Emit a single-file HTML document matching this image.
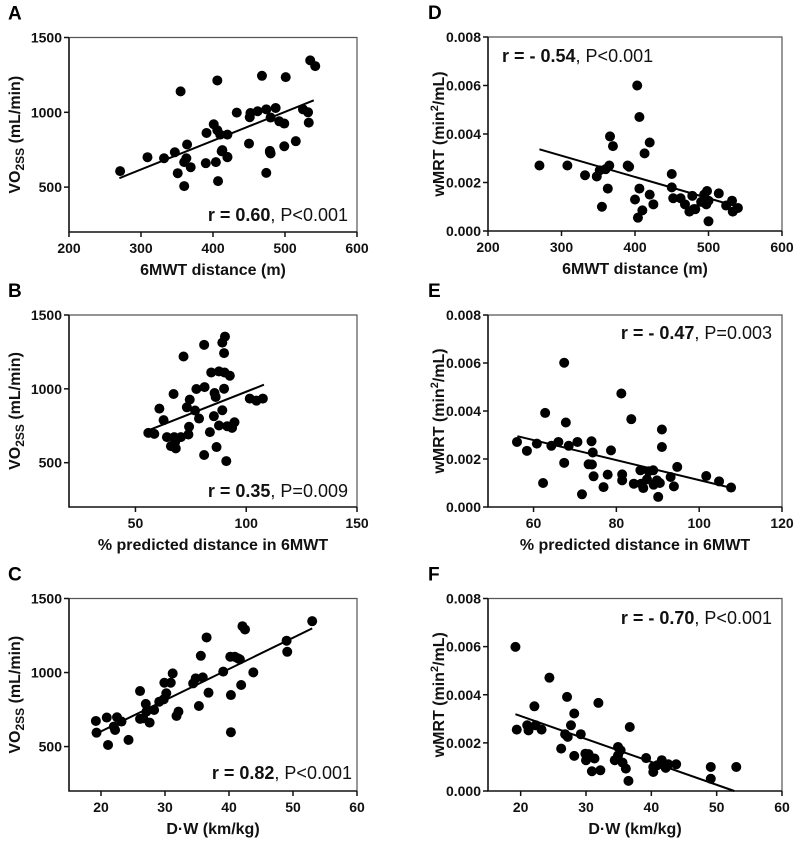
<!DOCTYPE html>
<html><head><meta charset="utf-8">
<style>
body{margin:0;background:#fff;}
svg{display:block;font-family:"Liberation Sans",Arial,sans-serif;}
.tick{font-size:14px;font-weight:bold;fill:#111;}
.title{font-size:16px;font-weight:bold;fill:#111;}
.letter{font-size:19px;font-weight:bold;fill:#000;}
.ann{font-size:18px;fill:#111;}
</style></head>
<body>
<svg id="fig" width="800" height="846" viewBox="0 0 800 846"></svg>
<script>
// ---- data ----
const distA=[271,309,332,347,363,360,369,351,360,390,404,407,420,412,474,479,355,364,406,468,501,535,542,474,487,525,532,433,451,452,462,480,492,499,533,401,391,406,410,420,413,420,450,479,480,499,515];
const vo2A=[607,700,693,733,693,667,633,593,507,660,667,540,700,740,595,735,1140,785,1213,1244,1235,1347,1309,1020,1029,1020,1000,998,967,995,1007,965,940,925,931,920,862,880,851,851,747,702,791,742,725,773,807];
const pctB=[55.8,58.5,60.8,62.7,64.2,66,67.2,67.5,68.2,67.9,70.5,71.7,73.2,73.9,74.2,74.5,76.9,77.5,78.7,81,81,81.2,83.6,84.2,85.4,85.7,86.2,86.6,87.7,87.7,89.2,89.2,90,90,90.2,90.4,91,91.4,92.6,93.6,94.7,101.6,104.6,107.5];
const vo2B=[702,695,866,788,673,612,965,673,597,639,673,1219,875,691,743,927,853,999,799,1298,552,1012,707,1111,815,972,945,606,1118,752,855,1313,1001,1242,1111,1354,511,747,1089,736,774,934,920,934];
const dwC=[19.2,19.3,20.9,21.1,22,22.2,22.5,23.2,24.3,26.1,26.1,26.6,27,27.1,27.6,28.3,29.1,29.8,29.9,30.2,30.9,31.2,31.8,32.1,34.4,34.8,35.3,35.6,35.9,36.5,36.8,39.1,40.2,40.3,40.3,40.9,41.4,41.7,41.9,42.1,42.5,43.8,49,49.1,53];
const vo2C=[673,594,696,511,635,612,698,669,545,875,687,691,788,736,662,747,803,819,931,860,931,994,707,736,927,961,774,1113,967,1237,864,1006,1107,848,597,1107,1096,1089,916,1313,1291,1001,1215,1140,1347];
const distD=[270,308,332,348,352,355,360,363,365,366,370,390,392,400,403,404,406,406,410,413,420,420,425,450,450,452,462,468,474,478,480,482,490,494,497,498,500,500,514,524,532,533,540];
const mrtD=[2.7,2.7,2.3,2.25,2.5,1.0,2.55,1.75,2.7,3.9,3.5,2.7,2.65,1.3,6.0,0.55,4.7,1.75,0.85,3.2,3.65,1.5,1.1,2.35,1.8,1.35,1.35,1.1,0.8,1.45,0.9,0.9,1.2,1.5,1.1,1.65,1.25,0.4,1.55,1.05,1.25,0.8,0.95];
const pctE=[56,58.4,60.8,62.3,62.8,64.3,66,67.4,67.4,67.8,68.5,70.6,71.7,73.3,74,74.1,74.3,74.5,76.9,77.9,78.7,81.2,81.4,81.4,83.6,84.2,85.8,86,86.5,87.4,87.8,88.9,89,89.8,90.1,90.5,91,91,93.1,93.9,94.7,101.7,104.8,107.7];
const mrtE=[2.71,2.34,2.64,1.0,3.92,2.55,2.71,6.01,1.84,3.52,2.55,2.71,0.53,1.78,2.74,1.77,2.27,1.28,0.83,1.35,2.36,4.73,1.36,1.11,3.66,0.97,1.53,0.97,0.79,1.15,1.49,1.53,0.93,1.11,0.42,1.0,2.5,3.23,1.25,0.86,1.67,1.29,1.07,0.81];
const dwF=[19.2,19.4,21,21.2,22.1,22.3,23.2,24.4,26.2,26.8,27.1,27.2,27.7,28.2,28.2,29.2,29.9,30,30.4,30.9,31.3,31.9,32.2,34.4,34.9,34.9,35.3,35.6,36.1,36.5,36.7,39.2,40.3,40.3,40.9,41.6,41.8,42.2,42.6,43.8,49.1,49.1,53];
const mrtF=[5.99,2.55,2.73,2.52,3.52,2.73,2.55,4.71,1.76,2.36,3.91,2.25,2.73,3.22,1.46,2.36,1.55,1.28,1.53,0.82,1.35,3.66,0.86,1.28,1.83,1.48,1.69,1.18,0.93,0.42,2.66,1.37,1.0,0.79,1.07,1.28,1.14,0.96,1.11,1.11,1.0,0.51,1.0];
// regression line endpoints [x0,y0,x1,y1]
const fitA=[270,560,540,1080];
const fitB=[56,720,108,1028];
const fitC=[19.6,594,53,1298];
const fitD=[270,3.37,540,1.0];
const fitE=[56.1,2.95,108.4,0.77];
const fitF=[19.2,3.19,52.7,0];
const ticksVO=[500,1000,1500];
const ticksMRT=[0,2,4,6,8];
const ticksDist=[200,300,400,500,600];
const ticksPctB=[50,100,150];
const ticksPctE=[60,80,100,120];
const ticksDW=[20,30,40,50,60];

const NS="http://www.w3.org/2000/svg";
const svg=document.getElementById('fig');
function mk(tag,attrs,parent){const e=document.createElementNS(NS,tag);for(const k in attrs)e.setAttribute(k,attrs[k]);(parent||svg).appendChild(e);return e;}

function panel(p){
  const g=mk('g',{});
  
  
  const sx=v=>p.L+(v-p.x0)/(p.x1-p.x0)*(p.R-p.L);
  const sy=v=>p.B-(v-p.y0)/(p.y1-p.y0)*(p.B-p.T);
  const fr=mk('path',{d:`M${p.L} ${p.T}H${p.R}V${p.B}`,fill:'none',stroke:'#555','stroke-width':1.2},g);
  
  
  const ax=mk('path',{d:`M${p.L} ${p.T}V${p.B}H${p.R}`,fill:'none',stroke:'#111','stroke-width':1.6},g);
  
  
  p.xt.forEach(v=>{
    mk('line',{x1:sx(v),x2:sx(v),y1:p.B,y2:p.B+5,stroke:'#111','stroke-width':1.5},g);
    const t=mk('text',{x:sx(v),y:p.B+21,'text-anchor':'middle',class:'tick'},g);t.textContent=v;
    
    
  });
  p.yt.forEach(v=>{
    mk('line',{x1:p.L-5,x2:p.L,y1:sy(v),y2:sy(v),stroke:'#111','stroke-width':1.5},g);
    const t=mk('text',{x:p.L-7,y:sy(v)+5,'text-anchor':'end',class:'tick'},g);t.textContent=p.yfmt(v);
    
    
  });
  const ln=mk('line',{x1:sx(p.fit[0]),y1:sy(p.fit[1]),x2:sx(p.fit[2]),y2:sy(p.fit[3]),stroke:'#000','stroke-width':2},g);
  
  
  p.xs.forEach((x,i)=>{
    const c=mk('circle',{cx:sx(x),cy:sy(p.ys[i]),r:5,fill:'#000'},g);
    
    
  });
  const L=mk('text',{x:p.lx,y:p.T-18,class:'letter'},g);L.textContent=p.id;
  
  
  const xt=mk('text',{x:(p.L+p.R)/2,y:p.B+43,'text-anchor':'middle',class:'title'},g);xt.textContent=p.xtitle;
  
  
  const yt=mk('text',{x:0,y:0,'text-anchor':'middle',class:'title',transform:`translate(${p.ytx},${(p.T+p.B)/2}) rotate(-90)`},g);
  yt.innerHTML=p.ytitle;
  
  
  const an=mk('text',{x:p.ax,y:p.ay,'text-anchor':p.anc,class:'ann'},g);
  an.innerHTML=p.ann;
  
  
}
const voT='VO<tspan font-size="12" dy="4">2SS</tspan><tspan dy="-4"> (mL/min)</tspan>';
const mrtT='wMRT (min<tspan font-size="11" dy="-6">2</tspan><tspan dy="6">/mL)</tspan>';
const fv=v=>v, fm=v=>(v/1000).toFixed(3);
const left={L:69,R:357,y0:200,y1:1500,yt:ticksVO,yfmt:fv,ytx:20,ytitle:voT,lx:8,anc:'end'};
const right={L:488,R:782,y0:0,y1:8,yt:ticksMRT,yfmt:fm,ytx:444,ytitle:mrtT,lx:428};
panel(Object.assign({},left,{id:'A',T:37.5,B:232,x0:200,x1:600,xt:ticksDist,xs:distA,ys:vo2A,fit:fitA,xtitle:'6MWT distance (m)',ax:348,ay:221,ann:'<tspan font-weight="bold">r = 0.60</tspan>, P&lt;0.001'}));
panel(Object.assign({},left,{id:'B',T:315,B:507,x0:20,x1:150,xt:ticksPctB,xs:pctB,ys:vo2B,fit:fitB,xtitle:'% predicted distance in 6MWT',ax:348,ay:497,ann:'<tspan font-weight="bold">r = 0.35</tspan>, P=0.009'}));
panel(Object.assign({},left,{id:'C',T:598.5,B:791,x0:15,x1:60,xt:ticksDW,xs:dwC,ys:vo2C,fit:fitC,xtitle:'D·W (km/kg)',ax:352,ay:779,ann:'<tspan font-weight="bold">r = 0.82</tspan>, P&lt;0.001'}));
panel(Object.assign({},right,{id:'D',T:37,B:231,x0:200,x1:600,xt:ticksDist,xs:distD,ys:mrtD,fit:fitD,xtitle:'6MWT distance (m)',ax:502,ay:62,anc:'start',ann:'<tspan font-weight="bold">r = - 0.54</tspan>, P&lt;0.001'}));
panel(Object.assign({},right,{id:'E',T:315,B:507,x0:49,x1:120,xt:ticksPctE,xs:pctE,ys:mrtE,fit:fitE,xtitle:'% predicted distance in 6MWT',ax:772,ay:339,anc:'end',ann:'<tspan font-weight="bold">r =  - 0.47</tspan>, P=0.003'}));
panel(Object.assign({},right,{id:'F',T:598.5,B:791,x0:15,x1:60,xt:ticksDW,xs:dwF,ys:mrtF,fit:fitF,xtitle:'D·W (km/kg)',ax:772,ay:624,anc:'end',ann:'<tspan font-weight="bold">r = - 0.70</tspan>, P&lt;0.001'}));
</script>
</body></html>
